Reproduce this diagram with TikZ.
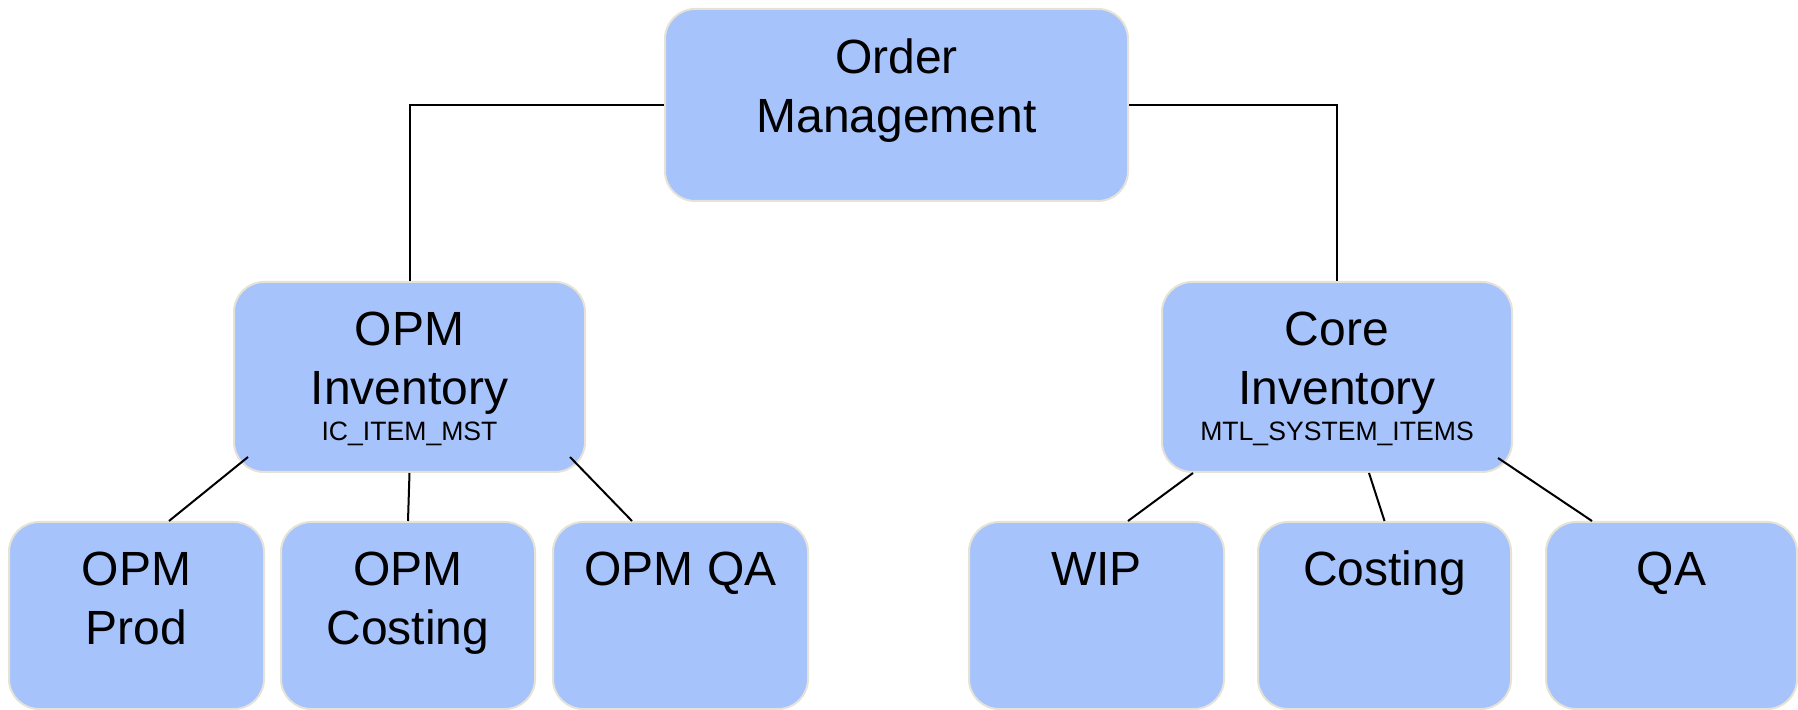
\documentclass[tikz,border=0pt]{standalone}
\usepackage{fontspec}
\setmainfont{Liberation Sans}
\usetikzlibrary{calc}
\definecolor{boxfill}{RGB}{167,195,252}
\definecolor{boxline}{RGB}{230,226,214}
\tikzset{
  box/.style={draw=boxline, fill=boxfill, line width=1pt, rounded corners=15pt, inner sep=0pt, rectangle},
  big/.style={font=\fontsize{24}{29}\selectfont, inner sep=0pt, anchor=base, text=black},
  small/.style={font=\fontsize{13.3}{16}\selectfont, inner sep=0pt, anchor=base, text=black},
  conn/.style={draw=black, line width=1pt},
}
\begin{document}
\begin{tikzpicture}[x=0.5pt,y=-0.5pt]
\useasboundingbox (0,0) rectangle (1798,710);
% boxes
\node[box, minimum width=231.5pt, minimum height=96pt] (om) at (896.5,105) {};
\node[box, minimum width=175.5pt, minimum height=95pt] (oi) at (409.5,377) {};
\node[box, minimum width=175pt, minimum height=95pt] (ci) at (1337,377) {};
\node[box, minimum width=127.5pt, minimum height=93.5pt] (p1) at (136.5,615.5) {};
\node[box, minimum width=127pt, minimum height=93.5pt] (p2) at (408,615.5) {};
\node[box, minimum width=127.5pt, minimum height=93.5pt] (p3) at (680.5,615.5) {};
\node[box, minimum width=127.5pt, minimum height=93.5pt] (w) at (1096.5,615.5) {};
\node[box, minimum width=126.5pt, minimum height=93.5pt] (c) at (1384.5,615.5) {};
\node[box, minimum width=125.5pt, minimum height=93.5pt] (q) at (1671.5,615.5) {};
% texts
\node[big] (om1) at (896.5,74) {Order};
\node[big] (om2) at (896.5,133) {Management};
\node[big] (oi1) at (409.5,346) {OPM};
\node[big] (oi2) at (409.5,405) {Inventory};
\node[small] (oi3) at (409.5,441) {IC\_ITEM\_MST};
\node[big] (ci1) at (1337,346) {Core};
\node[big] (ci2) at (1337,405) {Inventory};
\node[small] (ci3) at (1337,441) {MTL\_SYSTEM\_ITEMS};
\node[big] (p11) at (136.5,585) {OPM};
\node[big] (p12) at (136.5,644) {Prod};
\node[big] (p21) at (408,585) {OPM};
\node[big] (p22) at (408,644) {Costing};
\node[big] (p31) at (680.5,585) {OPM QA};
\node[big] (w1) at (1096.5,585) {WIP};
\node[big] (c1) at (1384.5,585) {Costing};
\node[big] (q1) at (1671.5,585) {QA};
% connectors
\draw[conn] (om.west) -| (oi.north);
\draw[conn] (om.east) -| (ci.north);
\draw[conn] ([shift={(15,-16)}]oi.south west) -- ([shift={(32.5,0)}]p1.north);
\draw[conn] (oi.south) -- (p2.north);
\draw[conn] ([shift={(-16,-16)}]oi.south east) -- ([shift={(80,0)}]p3.north west);
\draw[conn] ([shift={(32,0)}]ci.south west) -- ([shift={(31.5,0)}]w.north);
\draw[conn] ([shift={(32,0)}]ci.south) -- (c.north);
\draw[conn] ([shift={(-15,-15)}]ci.south east) -- ([shift={(47,0)}]q.north west);
\end{tikzpicture}
\end{document}
